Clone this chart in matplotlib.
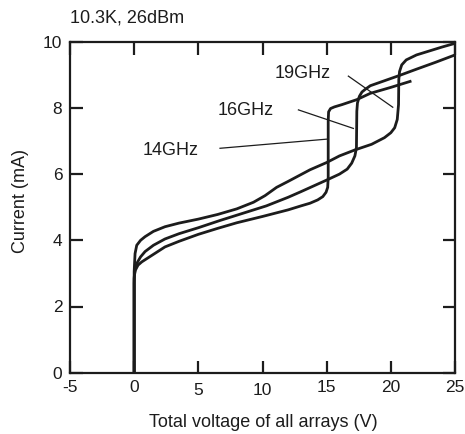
import matplotlib
matplotlib.use("Agg")
import matplotlib.pyplot as plt

plt.rcParams['font.family'] = ['Liberation Sans', 'DejaVu Sans']

# I-V curves (voltage V, current mA)
v_14 = [0, 0, 0.02, 0.1, 0.3, 0.6, 1.0, 1.6, 2.4, 3.5, 5.0, 6.5, 8.0, 10.0,
        12.0, 13.0, 13.7, 14.3, 14.7, 14.95, 15.08, 15.12, 15.12, 15.15, 15.3,
        15.6, 16.2, 17.35, 18.4, 20.0, 21.5]
i_14 = [0, 2.7, 2.95, 3.1, 3.25, 3.35, 3.45, 3.6, 3.8, 3.97, 4.18, 4.36, 4.53,
        4.72, 4.92, 5.04, 5.12, 5.22, 5.32, 5.45, 5.6, 5.9, 7.6, 7.88, 7.98,
        8.03, 8.1, 8.25, 8.44, 8.62, 8.8]

v_16 = [0, 0, 0.05, 0.2, 0.5, 0.85, 1.5, 2.4, 3.5, 5.0, 6.7, 8.5, 10.3, 12.0,
        13.0, 15.0, 16.0, 16.6, 16.95, 17.2, 17.32, 17.35, 17.4, 17.55, 17.75,
        18.0, 18.4, 19.5, 20.6, 22.0, 23.5, 25.0]
i_16 = [0, 2.85, 3.1, 3.3, 3.5, 3.66, 3.85, 4.04, 4.2, 4.38, 4.6, 4.82, 5.04,
        5.3, 5.47, 5.82, 6.0, 6.15, 6.33, 6.55, 6.8, 7.9, 8.15, 8.35, 8.48,
        8.56, 8.67, 8.82, 8.97, 9.17, 9.38, 9.6]

v_19 = [0, 0, 0.03, 0.07, 0.2, 0.5, 0.85, 1.5, 2.4, 3.5, 5.0, 6.5, 8.0, 9.3,
        10.2, 11.1, 12.0, 13.7, 15.0, 16.0, 17.2, 18.5, 19.5, 20.0, 20.3, 20.5,
        20.6, 20.62, 20.68, 20.85, 21.2, 22.0, 23.0, 24.0, 25.0]
i_19 = [0, 3.05, 3.3, 3.6, 3.85, 4.0, 4.11, 4.27, 4.41, 4.52, 4.64, 4.78, 4.95,
        5.15, 5.35, 5.6, 5.78, 6.13, 6.35, 6.55, 6.73, 6.9, 7.1, 7.25, 7.4,
        7.65, 8.1, 8.85, 9.1, 9.3, 9.45, 9.6, 9.72, 9.84, 9.95]

# curve labels and their leader lines (start -> end, data coords)
labels = ['19GHz', '16GHz', '14GHz']
label_x = [10.98, 6.48, 0.67]
label_y = [8.89, 7.79, 6.59]
leader_x0 = [16.69, 12.8, 6.69]
leader_y0 = [8.96, 7.94, 6.78]
leader_x1 = [20.15, 17.08, 15.13]
leader_y1 = [8.02, 7.38, 7.06]

xticks_upper = [-5, 0, 15, 20, 25]
xticks_lower = [5, 10]
yticks = [0, 2, 4, 6, 8, 10]

W, H = 465, 434
fig = plt.figure(figsize=(W / 100, H / 100), dpi=100)
ax = fig.add_axes([70 / W, (H - 372.7) / H, 385 / W, 331 / H])

col = '#1c1c1c'
for v, i in [(v_14, i_14), (v_16, i_16), (v_19, i_19)]:
    ax.plot(v, i, color=col, lw=2.0, solid_joinstyle='round')

for k in range(len(labels)):
    ax.plot([leader_x0[k], leader_x1[k]], [leader_y0[k], leader_y1[k]],
            color=col, lw=0.9)
    ax.text(label_x[k], label_y[k], labels[k], fontsize=13, color=col,
            ha='left', va='baseline')

ax.set_xlim(-5, 25)
ax.set_ylim(0, 10)
ax.set_xticks(xticks_upper, [str(t) for t in xticks_upper])
ax.set_xticks(xticks_lower, [str(t) for t in xticks_lower], minor=True)
ax.set_yticks(yticks, [str(t) for t in yticks])

for s in ax.spines.values():
    s.set_linewidth(1.6)
    s.set_color(col)
ax.tick_params(which='both', direction='in', length=9, width=1.6,
               top=True, right=True, labelsize=12.5, colors=col)
ax.tick_params(axis='x', which='major', pad=5)
ax.tick_params(axis='x', which='minor', pad=7.5)
ax.tick_params(axis='y', pad=5.5)

fig.text(70 / W, 1 - 22.7 / H, '10.3K, 26dBm', fontsize=13, color=col,
         ha='left', va='baseline')
fig.text(263 / W, 1 - 426.7 / H, 'Total voltage of all arrays (V)',
         fontsize=13, color=col, ha='center', va='baseline')
fig.text(25 / W, 1 - 200.8 / H, 'Current (mA)', fontsize=13, color=col,
         rotation=90, rotation_mode='anchor', ha='center', va='baseline')

fig.savefig('out.png', dpi=100)
